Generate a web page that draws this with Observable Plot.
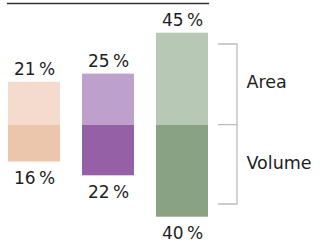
<!DOCTYPE html>
<html>
<head>
<meta charset="utf-8">
<script src="https://cdn.jsdelivr.net/npm/d3@7"></script>
<script src="https://cdn.jsdelivr.net/npm/@observablehq/plot@0.6"></script>
<style>
  html, body { margin: 0; padding: 0; background: #fff; }
</style>
</head>
<body>
<div id="chart"></div>
<script>
const categories = ["1", "2", "3"];
const area = [21, 25, 45];
const volume = [16, 22, 40];
const areaColors = ["#f5dbcd", "#bea0cc", "#b7c8b4"];
const volumeColors = ["#ecc6ac", "#9560a6", "#8aa284"];
const seriesLabels = ["Area", "Volume"];

const maxA = d3.max(area), maxV = d3.max(volume);
// each series is drawn relative to its own maximum (above / below the split)
const rows = categories.map((c, i) => ({
  cat: c, area: area[i], volume: volume[i],
  ya: area[i] / maxA, yv: -volume[i] / maxV,
  areaColor: areaColors[i], volumeColor: volumeColors[i]
}));
const fmt = v => `${v}\u2009%`;

const font = "DejaVu Sans";
const chart = Plot.plot({
  width: 320,
  height: 245,
  marginLeft: 7,
  marginRight: 112,
  marginTop: 3,
  marginBottom: 0,
  style: { fontFamily: font, background: "#fff" },
  x: { domain: categories, paddingInner: 0.3, paddingOuter: 0, axis: null },
  y: { domain: [-1, 1], range: [216.7, 32.7], axis: null },
  marks: [
    Plot.frame({ anchor: "top", stroke: "#333", strokeWidth: 1.3 }),
    Plot.barY(rows, { x: "cat", y1: 0, y2: "ya", fill: "areaColor" }),
    Plot.barY(rows, { x: "cat", y1: 0, y2: "yv", fill: "volumeColor" }),
    Plot.text(rows, { x: "cat", y: "ya", text: d => fmt(d.area), lineAnchor: "bottom", dy: -7, fontSize: 17, fontFamily: font, fill: "#1e1e1e" }),
    Plot.text(rows, { x: "cat", y: "yv", text: d => fmt(d.volume), lineAnchor: "top", dy: 10, fontSize: 17, fontFamily: font, fill: "#1e1e1e" }),
    Plot.text(seriesLabels, { y: (d, i) => i === 0 ? 0.47 : -0.41, text: d => d, frameAnchor: "right", textAnchor: "start", dx: 38, fontSize: 17.5, fontFamily: font, fill: "#1e1e1e" })
  ]
});
document.getElementById("chart").appendChild(chart);

// bracket annotation, positioned from the chart's own scales
const xs = chart.scale("x"), ys = chart.scale("y");
const xr = xs.apply(categories[categories.length - 1]) + xs.bandwidth;
const yTop = ys.apply(0.877), yMid = ys.apply(0), yBot = ys.apply(-0.862);
d3.select(chart).append("path")
  .attr("fill", "none")
  .attr("stroke", "#bdbdbd")
  .attr("stroke-width", 1.3)
  .attr("d", `M${xr + 10},${yTop}H${xr + 29}V${yBot}H${xr + 10}M${xr + 10},${yMid}H${xr + 29}`);
</script>
</body>
</html>
